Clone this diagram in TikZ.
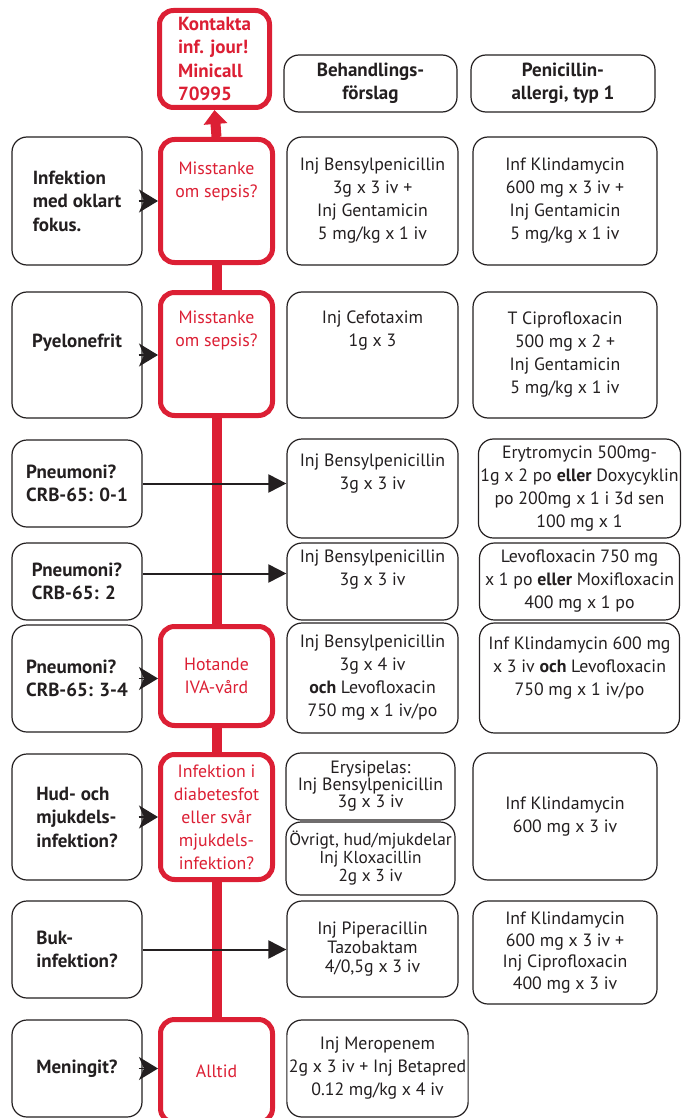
\documentclass[tikz,border=0pt]{standalone}
\usepackage{fontspec}
\setmainfont{PT Sans}
\usetikzlibrary{arrows.meta, positioning, backgrounds}
\definecolor{sepsisred}{HTML}{DC1F34}
\definecolor{inkdark}{HTML}{231F20}
\newcommand{\bodyfont}{\fontsize{17.8}{23}\selectfont}
\newcommand{\headfont}{\fontsize{19}{23.5}\selectfont\bfseries}
\tikzset{
  every node/.style={font=\bodyfont, text=inkdark, inner sep=2pt},
  lbox/.style={draw=inkdark, line width=1.2pt, rounded corners=15pt, fill=white,
    minimum width=130pt, align=left, font=\headfont},
  hdbox/.style={draw=inkdark, line width=1.2pt, rounded corners=15pt, fill=white,
    minimum height=57pt, align=center, font=\headfont},
  tbox/.style={draw=inkdark, line width=1.2pt, rounded corners=15pt, fill=white,
    align=center},
  redbox/.style={draw=sepsisred, line width=5pt, rounded corners=14pt, fill=white,
    minimum width=112pt, align=center, text=sepsisred},
  toptxt/.style={anchor=north, align=center, yshift=-#1},
  redline/.style={draw=sepsisred, line width=10pt},
  pointer/.style={draw=inkdark, line width=1.2pt, -{Stealth[length=19pt, width=23pt, inset=5pt]}},
  longarrow/.style={draw=inkdark, line width=2pt, -{Triangle[length=18pt, width=18pt]}}
}

\begin{document}
\begin{tikzpicture}[x=1pt, y=-1pt]
  \useasboundingbox (0,0) rectangle (681,1118);

  % header
  \node[redbox, minimum width=110pt, minimum height=97pt, align=left,
        font=\headfont] (kontakt) at (214.5,59)
    {Kontakta\\inf. jour!\\Minicall\\70995};
  \node[hdbox, minimum width=173pt] (hdtreat) at (370.5,83.5) {Behandlings-\\förslag};
  \node[hdbox, minimum width=184pt] (hdallergy) at (563,83.5) {Penicillin-\\allergi, typ 1};

  % oklart fokus
  \node[lbox, minimum height=128pt] (l1) at (77,201) {Infektion\\med oklart\\fokus.};
  \node[redbox, minimum height=123pt,
        label={[toptxt=23pt, text=sepsisred]north:{Misstanke\\om sepsis?}}] (r1) at (216.5,201) {};
  \node[tbox, minimum width=171pt, minimum height=128pt] (t1) at (372.5,201)
    {Inj Bensylpenicillin\\3g x 3 iv +\\Inj Gentamicin\\5 mg/kg x 1 iv};
  \node[tbox, minimum width=184pt, minimum height=128pt] (a1) at (565,201)
    {Inf Klindamycin\\600 mg x 3 iv +\\Inj Gentamicin\\5 mg/kg x 1 iv};

  % pyelonefrit
  \node[lbox, minimum height=126pt,
        label={[toptxt=40pt, font=\headfont]north:Pyelonefrit}] (l2) at (77,355) {};
  \node[redbox, minimum height=123pt,
        label={[toptxt=19pt, text=sepsisred]north:{Misstanke\\om sepsis?}}] (r2) at (216.5,354) {};
  \node[tbox, minimum width=171pt, minimum height=126pt,
        label={[toptxt=17pt]north:{Inj Cefotaxim\\1g x 3}}] (t2) at (372.5,355) {};
  \node[tbox, minimum width=184pt, minimum height=126pt] (a2) at (565,355)
    {T Ciprofloxacin\\500 mg x 2 +\\Inj Gentamicin\\5 mg/kg x 1 iv};

  % pneumoni 0-1
  \node[lbox, minimum height=87pt] (l3) at (77,483.5) {Pneumoni?\\CRB-65: 0-1};
  \node[tbox, minimum width=171pt, minimum height=99pt,
        label={[toptxt=13pt]north:{Inj Bensylpenicillin\\3g x 3 iv}}] (t3) at (372.5,488.5) {};
  \node[tbox, minimum width=200pt, minimum height=99pt] (a3) at (579.5,488.5)
    {Erytromycin 500mg-\\1g x 2 po \textbf{eller} Doxycyklin\\po 200mg x 1 i 3d sen\\100 mg x 1};

  % pneumoni 2
  \node[lbox, minimum height=77pt] (l4) at (77,581.5) {Pneumoni?\\CRB-65: 2};
  \node[tbox, minimum width=171pt, minimum height=77pt,
        label={[toptxt=5pt]north:{Inj Bensylpenicillin\\3g x 3 iv}}] (t4) at (372.5,581.5) {};
  \node[tbox, minimum width=200pt, minimum height=77pt] (a4) at (579.5,581.5)
    {Levofloxacin 750 mg\\x 1 po \textbf{eller} Moxifloxacin\\400 mg x 1 po};

  % pneumoni 3-4
  \node[lbox, minimum height=107pt] (l5) at (77,678.5) {Pneumoni?\\CRB-65: 3-4};
  \node[redbox, minimum height=99pt] (r5) at (216.5,676) {Hotande\\IVA-vård};
  \node[tbox, minimum width=171pt, minimum height=110pt] (t5) at (372.5,678)
    {Inj Bensylpenicillin\\3g x 4 iv\\\textbf{och} Levofloxacin\\750 mg x 1 iv/po};
  \node[tbox, minimum width=200pt, minimum height=110pt,
        label={[toptxt=12pt]north:{Inf Klindamycin 600 mg\\x 3 iv \textbf{och} Levofloxacin\\750 mg x 1 iv/po}}] (a5) at (579.5,678) {};

  % hud och mjukdelar
  \node[lbox, minimum height=126pt] (l6) at (77,817) {Hud- och\\mjukdels-\\infektion?};
  \node[redbox, minimum height=125pt] (r6) at (216.5,817)
    {Infektion i\\diabetesfot\\eller svår\\mjukdels-\\infektion?};
  \node[tbox, minimum width=169pt, minimum height=67pt, font=\fontsize{17.8}{17}\selectfont] (t6a) at (370.5,786.5)
    {Erysipelas:\\Inj Bensylpenicillin\\3g x 3 iv};
  \node[tbox, minimum width=169pt, minimum height=73pt, inner sep=1pt, font=\fontsize{17.3}{18}\selectfont] (t6b) at (370.5,858.5)
    {Övrigt, hud/mjukdelar\\Inj Kloxacillin\\2g x 3 iv};
  \node[tbox, minimum width=184pt, minimum height=127pt] (a6) at (565,816.5)
    {Inf Klindamycin\\600 mg x 3 iv};

  % bukinfektion
  \node[lbox, minimum height=97pt] (l7) at (77,949.5) {Buk-\\infektion?};
  \node[tbox, minimum width=171pt, minimum height=96pt, font=\fontsize{17.8}{19}\selectfont] (t7) at (372.5,949)
    {Inj Piperacillin\\Tazobaktam\\4/0,5g x 3 iv};
  \node[tbox, minimum width=184pt, minimum height=103pt, font=\fontsize{17.8}{21.5}\selectfont] (a7) at (565,952.5)
    {Inf Klindamycin\\600 mg x 3 iv +\\Inj Ciprofloxacin\\400 mg x 3 iv};

  % meningit
  \node[lbox, minimum height=97pt] (l8) at (77,1068.5) {Meningit?};
  \node[redbox, minimum height=103pt] (r8) at (216.5,1071) {Alltid};
  \node[tbox, minimum width=179pt, minimum height=97pt] (t8) at (377.5,1068.5)
    {Inj Meropenem\\2g x 3 iv + Inj Betapred\\0.12 mg/kg x 4 iv};

  % red spine
  \begin{scope}[on background layer]
    \draw[redline] (r1.south) -- (r8.north);
  \end{scope}
  \draw[redline, -{Triangle[length=14pt, width=23pt]}] (r1.north) -- (kontakt.south);

  % connectors
  \draw[pointer] ([xshift=-4pt]l1.east) -- (l1.east -| r1.west);
  \draw[pointer] ([xshift=-4pt]l2.east) -- (l2.east -| r2.west);
  \draw[pointer] ([xshift=-4pt]l5.east) -- (l5.east -| r5.west);
  \draw[pointer] ([xshift=-4pt]l6.east) -- (l6.east -| r6.west);
  \draw[pointer] ([xshift=-4pt]l8.east) -- (l8.east -| r8.west);
  \draw[longarrow] (l3.east) -- (l3.east -| t3.west);
  \draw[longarrow] ([yshift=8pt]l4.east) -- ([yshift=8pt]l4.east -| t4.west);
  \draw[longarrow] (l7.east) -- (l7.east -| t7.west);
\end{tikzpicture}
\end{document}
